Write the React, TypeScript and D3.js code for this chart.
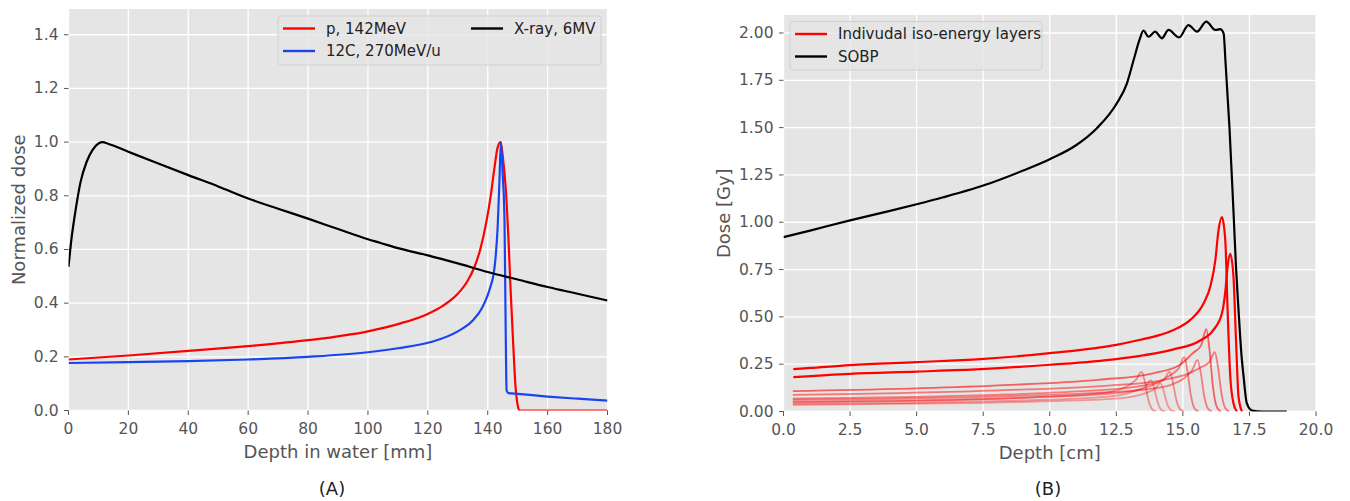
import React from 'react';
import * as d3 from 'd3';

const W = 1350;
const H = 501;
const FONT = '"DejaVu Sans", Verdana, sans-serif';
const BG = '#e5e5e5';
const INK = '#555555';

// (A) depth dose curves in water, normalized to the maximum
const xrayDepth = [0, 1, 2, 3, 4, 6, 8, 10, 11.5, 13, 20, 30, 40, 50, 60, 70, 80, 90, 100, 104, 110, 120, 130, 140, 150, 160, 170, 180];
const xrayDose = [0.535, 0.64, 0.72, 0.79, 0.85, 0.925, 0.97, 0.995, 1.0, 0.995, 0.964, 0.92, 0.877, 0.835, 0.79, 0.752, 0.715, 0.676, 0.638, 0.625, 0.605, 0.578, 0.548, 0.516, 0.488, 0.46, 0.435, 0.41];

const protonDepth = [0, 20, 40, 60, 80, 100, 110, 120, 125, 130, 133, 135.4, 137.5, 139.5, 141, 142.2, 143.3, 144.3, 145, 146, 147, 147.6, 148.5, 149.3, 150, 150.6, 180];
const protonDose = [0.19, 0.205, 0.222, 0.24, 0.262, 0.295, 0.322, 0.36, 0.39, 0.435, 0.478, 0.53, 0.6, 0.7, 0.8, 0.9, 0.98, 1.0, 0.95, 0.83, 0.62, 0.46, 0.25, 0.087, 0.02, 0, 0];

const carbonDepth = [0, 20, 40, 60, 80, 100, 110, 121, 130, 135, 138, 140, 141, 142, 142.7, 143.3, 143.9, 144.4, 145, 145.6, 146, 146.3, 146.9, 150, 160, 170, 180];
const carbonDose = [0.177, 0.18, 0.184, 0.19, 0.2, 0.217, 0.232, 0.255, 0.295, 0.335, 0.38, 0.43, 0.465, 0.51, 0.58, 0.68, 0.85, 1.0, 0.88, 0.71, 0.3, 0.075, 0.065, 0.062, 0.052, 0.044, 0.037];

// (B) spread-out Bragg peak and its iso-energy layers, in Gy
const sobpDepth = [0, 1, 2.5, 4, 5, 6, 7.76, 9, 10, 11, 11.77, 12.52, 12.9, 13.15, 13.37, 13.52, 13.71, 13.96, 14.21, 14.46, 14.86, 15.21, 15.53, 15.88, 16.22, 16.4, 16.53, 16.6, 16.75, 16.9, 17.0, 17.09, 17.2, 17.28, 17.4, 17.6, 18.0, 18.9];
const sobpDose = [0.921, 0.956, 1.01, 1.06, 1.095, 1.132, 1.206, 1.273, 1.333, 1.408, 1.497, 1.629, 1.734, 1.857, 1.963, 2.012, 1.98, 2.007, 1.972, 2.016, 1.977, 2.042, 2.007, 2.06, 2.016, 2.02, 1.998, 1.85, 1.5, 1.06, 0.75, 0.537, 0.3, 0.185, 0.044, 0.005, 0, 0];

const layer1Depth = [0.35, 6.7, 9.45, 11.45, 12.45, 12.95, 13.25, 13.45, 13.57, 13.7, 13.85, 14.0];
const layer1Dose = [0.048, 0.061, 0.075, 0.09, 0.109, 0.137, 0.17, 0.21, 0.158, 0.063, 0.011, 0];
const layer2Depth = [0.35, 6.9, 9.8, 11.8, 12.8, 13.3, 13.6, 13.8, 13.92, 14.05, 14.2, 14.35];
const layer2Dose = [0.04, 0.051, 0.062, 0.075, 0.091, 0.114, 0.133, 0.165, 0.124, 0.05, 0.008, 0];
const layer3Depth = [0.35, 7.1, 10.15, 12.15, 13.15, 13.65, 13.95, 14.15, 14.27, 14.4, 14.55, 14.7];
const layer3Dose = [0.035, 0.044, 0.055, 0.065, 0.08, 0.1, 0.12, 0.15, 0.113, 0.045, 0.008, 0];
const layer4Depth = [0.35, 7.25, 10.5, 12.5, 13.5, 14.0, 14.3, 14.5, 14.62, 14.75, 14.9, 15.05];
const layer4Dose = [0.052, 0.066, 0.081, 0.097, 0.119, 0.149, 0.17, 0.21, 0.158, 0.063, 0.011, 0];
const layer5Depth = [0.35, 7.5, 11.05, 13.05, 14.05, 14.55, 14.85, 15.05, 15.17, 15.3, 15.45, 15.6];
const layer5Dose = [0.068, 0.086, 0.106, 0.127, 0.155, 0.194, 0.23, 0.287, 0.215, 0.086, 0.014, 0];
const layer6Depth = [0.35, 7.8, 11.55, 13.55, 14.55, 15.05, 15.35, 15.55, 15.67, 15.8, 15.95, 16.1];
const layer6Dose = [0.062, 0.079, 0.097, 0.116, 0.141, 0.177, 0.218, 0.273, 0.205, 0.082, 0.014, 0];
const layer7Depth = [0.35, 7.9, 11.88, 13.88, 14.88, 15.38, 15.68, 15.88, 16.0, 16.13, 16.28, 16.43];
const layer7Dose = [0.108, 0.137, 0.168, 0.202, 0.246, 0.309, 0.348, 0.435, 0.326, 0.13, 0.022, 0];
const layer8Depth = [0.35, 8.1, 12.2, 14.2, 15.2, 15.7, 16.0, 16.2, 16.32, 16.45, 16.6, 16.75];
const layer8Dose = [0.088, 0.112, 0.137, 0.165, 0.2, 0.235, 0.262, 0.313, 0.235, 0.094, 0.016, 0];
const layer9Depth = [0.37, 2.5, 5, 7.4, 10, 12.5, 13.4, 14.15, 14.65, 15.65, 16.15, 16.47, 16.6, 16.68, 16.78, 16.9, 17.0, 17.09, 17.22];
const layer9Dose = [0.182, 0.199, 0.211, 0.224, 0.247, 0.277, 0.294, 0.312, 0.328, 0.375, 0.431, 0.52, 0.643, 0.766, 0.833, 0.713, 0.361, 0.079, 0];
const layer10Depth = [0.37, 1, 2.5, 5, 7.4, 10, 12.5, 13.4, 14.15, 14.65, 15.28, 15.78, 16.03, 16.22, 16.34, 16.47, 16.55, 16.6, 16.68, 16.78, 16.9, 17.03];
const layer10Dose = [0.224, 0.23, 0.245, 0.261, 0.277, 0.308, 0.352, 0.379, 0.405, 0.431, 0.484, 0.572, 0.66, 0.8, 0.96, 1.027, 0.97, 0.889, 0.537, 0.185, 0.044, 0];

const layerDepths = [layer1Depth, layer2Depth, layer3Depth, layer4Depth, layer5Depth, layer6Depth, layer7Depth, layer8Depth, layer9Depth, layer10Depth];
const layerDoses = [layer1Dose, layer2Dose, layer3Dose, layer4Dose, layer5Dose, layer6Dose, layer7Dose, layer8Dose, layer9Dose, layer10Dose];

const ticksA_x = [0, 20, 40, 60, 80, 100, 120, 140, 160, 180];
const ticksA_y = [0, 0.2, 0.4, 0.6, 0.8, 1.0, 1.2, 1.4];
const ticksB_x = [0, 2.5, 5, 7.5, 10, 12.5, 15, 17.5, 20];
const ticksB_y = [0, 0.25, 0.5, 0.75, 1.0, 1.25, 1.5, 1.75, 2.0];

type Series = { xs: number[]; ys: number[]; color: string; width: number; opacity: number };
type LegendItem = { label: string; color: string; col: number; row: number };

type PanelProps = {
  id: string;
  left: number; right: number; top: number; bottom: number;
  xDomain: number[]; yDomain: number[];
  xTicks: number[]; yTicks: number[];
  xFmt: (v: number) => string; yFmt: (v: number) => string;
  xLabel: string; yLabel: string; yLabelX: number;
  caption: string; captionX: number;
  series: Series[];
  legend: { x: number; y: number; w: number; h: number; colW: number; items: LegendItem[] };
};

function Panel(p: PanelProps) {
  const x = d3.scaleLinear().domain(p.xDomain).range([p.left, p.right]);
  const y = d3.scaleLinear().domain(p.yDomain).range([p.bottom, p.top]);
  const line = d3
    .line<[number, number]>()
    .x(d => x(d[0]))
    .y(d => y(d[1]))
    .curve(d3.curveMonotoneX);
  const lg = p.legend;

  return (
    <g>
      <defs>
        <clipPath id={p.id}>
          <rect x={p.left} y={p.top} width={p.right - p.left} height={p.bottom - p.top} />
        </clipPath>
      </defs>
      <rect x={p.left} y={p.top} width={p.right - p.left} height={p.bottom - p.top} fill={BG} />
      {p.xTicks.map(t => (
        <line key={'gx' + t} x1={x(t)} x2={x(t)} y1={p.top} y2={p.bottom} stroke="#fff" strokeWidth={1.3} />
      ))}
      {p.yTicks.map(t => (
        <line key={'gy' + t} x1={p.left} x2={p.right} y1={y(t)} y2={y(t)} stroke="#fff" strokeWidth={1.3} />
      ))}
      <g clipPath={`url(#${p.id})`}>
        {p.series.map((s, i) => (
          <path
            key={i}
            d={line(s.xs.map((v, j) => [v, s.ys[j]] as [number, number])) || ''}
            fill="none"
            stroke={s.color}
            strokeWidth={s.width}
            strokeOpacity={s.opacity}
            strokeLinejoin="round"
          />
        ))}
      </g>
      {p.xTicks.map(t => (
        <g key={'tx' + t}>
          <line x1={x(t)} x2={x(t)} y1={p.bottom} y2={p.bottom + 4.5} stroke={INK} />
          <text x={x(t)} y={p.bottom + 18} textAnchor="middle" dominantBaseline="central" fontSize={15.5} fill={INK}>
            {p.xFmt(t)}
          </text>
        </g>
      ))}
      {p.yTicks.map(t => (
        <g key={'ty' + t}>
          <line x1={p.left - 4.5} x2={p.left} y1={y(t)} y2={y(t)} stroke={INK} />
          <text x={p.left - 10} y={y(t)} textAnchor="end" dominantBaseline="central" fontSize={15.5} fill={INK}>
            {p.yFmt(t)}
          </text>
        </g>
      ))}
      <text x={(p.left + p.right) / 2} y={p.bottom + 41} textAnchor="middle" dominantBaseline="central" fontSize={18} fill={INK}>
        {p.xLabel}
      </text>
      <text
        transform={`translate(${p.yLabelX},${(p.top + p.bottom) / 2}) rotate(-90)`}
        textAnchor="middle"
        dominantBaseline="central"
        fontSize={18}
        fill={INK}
      >
        {p.yLabel}
      </text>
      <rect x={lg.x} y={lg.y} width={lg.w} height={lg.h} rx={3} fill={BG} fillOpacity={0.8} stroke="#cccccc" strokeOpacity={0.8} />
      {lg.items.map(it => {
        const bx = lg.x + 5 + it.col * lg.colW;
        const by = lg.y + 12.5 + it.row * 22.5;
        return (
          <g key={it.label}>
            <line x1={bx} x2={bx + 32} y1={by} y2={by} stroke={it.color} strokeWidth={2.4} />
            <text x={bx + 43} y={by} dominantBaseline="central" fontSize={15} fill="#222">
              {it.label}
            </text>
          </g>
        );
      })}
      <text x={p.captionX} y={488} textAnchor="middle" dominantBaseline="central" fontSize={18} fill="#222">
        {p.caption}
      </text>
    </g>
  );
}

export default function App() {
  const alpha = d3.scaleLinear().domain([0.15, 0.45, 0.8]).range([0.35, 0.6, 1]).clamp(true);

  const seriesA: Series[] = [
    { xs: protonDepth, ys: protonDose, color: '#ff0000', width: 2.2, opacity: 1 },
    { xs: carbonDepth, ys: carbonDose, color: '#1a44f0', width: 2.2, opacity: 1 },
    { xs: xrayDepth, ys: xrayDose, color: '#000000', width: 2.2, opacity: 1 },
  ];

  const seriesB: Series[] = layerDepths.map((xs, i) => {
    const peak = d3.max(layerDoses[i]) as number;
    return { xs, ys: layerDoses[i], color: '#ff0000', width: peak > 0.8 ? 2.2 : 1.8, opacity: alpha(peak) };
  });
  seriesB.push({ xs: sobpDepth, ys: sobpDose, color: '#000000', width: 2.2, opacity: 1 });

  return (
    <svg width={W} height={H} style={{ position: 'absolute', left: 0, top: 0, background: '#fff' }} fontFamily={FONT}>
      <Panel
        id="clipA"
        left={68.5} right={607.5} top={9} bottom={410.5}
        xDomain={[0, 180]} yDomain={[0, 1.496]}
        xTicks={ticksA_x} yTicks={ticksA_y}
        xFmt={d3.format('d')} yFmt={d3.format('.1f')}
        xLabel="Depth in water [mm]" yLabel="Normalized dose" yLabelX={18.5}
        caption="(A)" captionX={332}
        series={seriesA}
        legend={{
          x: 278, y: 16, w: 323, h: 49, colW: 188,
          items: [
            { label: 'p, 142MeV', color: '#ff0000', col: 0, row: 0 },
            { label: '12C, 270MeV/u', color: '#1a44f0', col: 0, row: 1 },
            { label: 'X-ray, 6MV', color: '#000000', col: 1, row: 0 },
          ],
        }}
      />
      <Panel
        id="clipB"
        left={783.5} right={1316} top={15} bottom={411.5}
        xDomain={[0, 20]} yDomain={[0, 2.095]}
        xTicks={ticksB_x} yTicks={ticksB_y}
        xFmt={d3.format('.1f')} yFmt={d3.format('.2f')}
        xLabel="Depth [cm]" yLabel="Dose [Gy]" yLabelX={723}
        caption="(B)" captionX={1048}
        series={seriesB}
        legend={{
          x: 790, y: 21.5, w: 252, h: 48.5, colW: 0,
          items: [
            { label: 'Indivudal iso-energy layers', color: '#ff0000', col: 0, row: 0 },
            { label: 'SOBP', color: '#000000', col: 0, row: 1 },
          ],
        }}
      />
    </svg>
  );
}
